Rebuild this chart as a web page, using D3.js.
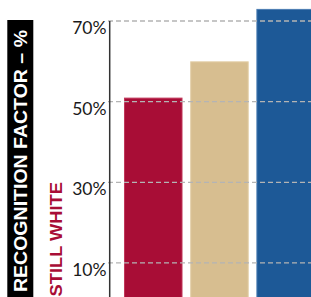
<!DOCTYPE html>
<html>
<head>
<meta charset="utf-8">
<script src="https://cdn.jsdelivr.net/npm/d3@7"></script>
<style>
  html, body { margin: 0; padding: 0; background: #fff; }
  svg { display: block; }
</style>
</head>
<body>
<script>
const categories = ["Still White", "Gold", "Blue"];
const values = [51, 60, 73];
const colors = ["#a80d36", "#d7be90", "#1d5997"];
const strokes = ["#c0375a", "#e3cfa8", "#4b7db3"];
const tickValues = [10, 30, 50, 70];
const yTitle = "RECOGNITION FACTOR – %";
const seriesLabel = "STILL WHITE";

const W = 311, H = 297;
const svg = d3.select("body").append("svg").attr("width", W).attr("height", H);

const y = d3.scaleLinear().domain([0, 70]).range([303.3, 21]);
const x = d3.scaleBand().domain(categories).range([120.15, 318.75])
  .paddingInner(0.116).paddingOuter(0.058);

// bars
svg.append("g").selectAll("rect").data(categories).join("rect")
  .attr("x", d => x(d) + 0.5)
  .attr("y", (d, i) => y(values[i]) + 0.5)
  .attr("width", x.bandwidth() - 1)
  .attr("height", (d, i) => y(0) - y(values[i]))
  .attr("fill", (d, i) => colors[i])
  .attr("stroke", (d, i) => strokes[i])
  .attr("stroke-width", 1);

// gridlines on top
svg.append("g").selectAll("line").data(tickValues).join("line")
  .attr("x1", 108).attr("x2", W)
  .attr("y1", d => y(d)).attr("y2", d => y(d))
  .attr("stroke", "#b4b4b4").attr("stroke-width", 1.3)
  .attr("stroke-dasharray", "5,3");

// axis line
svg.append("line")
  .attr("x1", 109.7).attr("x2", 109.7)
  .attr("y1", 21).attr("y2", H)
  .attr("stroke", "#333").attr("stroke-width", 1.5);

// tick labels
svg.append("g").selectAll("text").data(tickValues).join("text")
  .attr("x", 106.5).attr("y", d => y(d) + 13)
  .attr("text-anchor", "end")
  .attr("font-family", "Lato, 'Open Sans', sans-serif")
  .attr("font-weight", 400)
  .attr("font-size", 17.5)
  .attr("fill", "#1a1a1a")
  .text(d => d + "%");

// black title box
svg.append("rect").attr("x", 7.3).attr("y", 20).attr("width", 26).attr("height", H - 20)
  .attr("fill", "#000");
svg.append("text")
  .attr("transform", "translate(27,292) rotate(-90)")
  .attr("font-family", "'Liberation Sans', Arial, sans-serif")
  .attr("font-weight", "bold")
  .attr("font-size", 19)
  .attr("fill", "#fff")
  .attr("textLength", 262)
  .attr("lengthAdjust", "spacingAndGlyphs")
  .text(yTitle);

// series label
svg.append("text")
  .attr("transform", "translate(61.7,296.5) rotate(-90)")
  .attr("font-family", "'Liberation Sans', Arial, sans-serif")
  .attr("font-weight", "bold")
  .attr("font-size", 16)
  .attr("fill", "#a80d36")
  .attr("textLength", 114.5)
  .attr("lengthAdjust", "spacingAndGlyphs")
  .text(seriesLabel);
</script>
</body>
</html>
